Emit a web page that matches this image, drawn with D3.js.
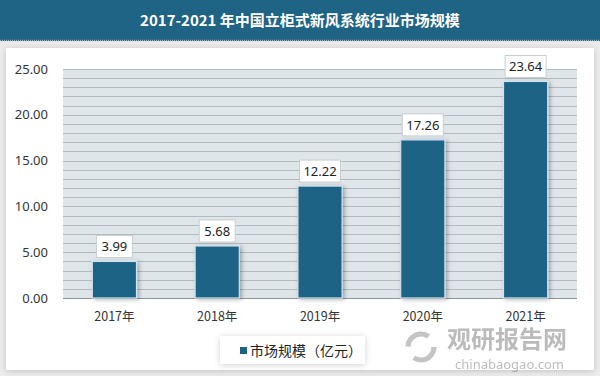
<!DOCTYPE html>
<html>
<head>
<meta charset="utf-8">
<script src="https://cdn.jsdelivr.net/npm/d3@7"></script>
<style>
  html, body { margin: 0; padding: 0; background: #ececec; }
  #chart { width: 600px; height: 376px; }
</style>
</head>
<body>
<div id="chart"></div>
<script>
// Chart data
const years = ['2017年', '2018年', '2019年', '2020年', '2021年'];
const marketSize = [3.99, 5.68, 12.22, 17.26, 23.64];
const yTicks = [0, 5, 10, 15, 20, 25];
const minorTicks = d3.range(0, 26, 1);
const titleText = '2017-2021 年中国立柜式新风系统行业市场规模';
const legendText = '市场规模（亿元）';

const width = 600, height = 376;
const plot = { left: 63, right: 577, top: 69, bottom: 298 };
const barColor = '#1b6386';
const numFont = '"Noto Sans", "Open Sans", sans-serif';
const cjkFont = '"Noto Sans CJK SC", "Noto Sans", sans-serif';

const svg = d3.select('#chart')
    .append('svg')
    .attr('width', width)
    .attr('height', height);

const defs = svg.append('defs');

// soft shadow for panel, bars and boxes
const shadow = defs.append('filter').attr('id', 'shadow')
    .attr('x', '-20%').attr('y', '-20%').attr('width', '150%').attr('height', '150%');
shadow.append('feDropShadow')
    .attr('dx', 2).attr('dy', 1).attr('stdDeviation', 2)
    .attr('flood-color', '#000').attr('flood-opacity', 0.3);

const softShadow = defs.append('filter').attr('id', 'softShadow')
    .attr('x', '-10%').attr('y', '-20%').attr('width', '120%').attr('height', '150%');
softShadow.append('feDropShadow')
    .attr('dx', 0).attr('dy', 1).attr('stdDeviation', 3)
    .attr('flood-color', '#000').attr('flood-opacity', 0.18);

// background and title bar
svg.append('rect').attr('width', width).attr('height', height).attr('fill', '#ececec');
svg.append('rect').attr('x', 0).attr('y', 0).attr('width', width).attr('height', 41)
    .attr('fill', '#1f6385');
svg.append('line')
    .attr('x1', 0).attr('x2', width).attr('y1', 40.5).attr('y2', 40.5)
    .attr('stroke', '#9fb5c2').attr('stroke-width', 1.5).attr('stroke-dasharray', '1,1');

svg.append('text')
    .attr('x', 300).attr('y', 26)
    .attr('text-anchor', 'middle')
    .attr('fill', '#ffffff')
    .attr('font-family', cjkFont)
    .attr('font-weight', 'bold')
    .attr('font-size', 15)
    .text(titleText);

// white panel
svg.append('rect')
    .attr('x', 6).attr('y', 48).attr('width', 588).attr('height', 322)
    .attr('fill', '#ffffff')
    .attr('filter', 'url(#softShadow)');

// scales
const x = d3.scaleBand()
    .domain(years)
    .range([plot.left, plot.right])
    .paddingInner(0.57)
    .paddingOuter(0.285);

const y = d3.scaleLinear()
    .domain([0, 25])
    .range([plot.bottom, plot.top]);

const g = svg.append('g');

// plot background
g.append('rect')
    .attr('x', plot.left).attr('y', plot.top)
    .attr('width', plot.right - plot.left).attr('height', plot.bottom - plot.top)
    .attr('fill', '#dfe6ea');

// gridlines every unit
g.selectAll('.grid')
    .data(minorTicks)
    .enter()
    .append('line')
    .attr('class', 'grid')
    .attr('x1', plot.left).attr('x2', plot.right)
    .attr('y1', d => Math.round(y(d)) + 0.5)
    .attr('y2', d => Math.round(y(d)) + 0.5)
    .attr('stroke', d => d === 0 ? '#8c9498' : '#b3bbbf')
    .attr('stroke-width', 1);

// y axis labels
const yAxis = d3.axisLeft(y).tickValues(yTicks).tickFormat(d3.format('.2f')).tickSize(0).tickPadding(15);
const yg = g.append('g').attr('transform', `translate(${plot.left},0)`).call(yAxis);
yg.select('.domain').remove();
yg.selectAll('text')
    .attr('font-family', numFont)
    .attr('font-size', 13)
    .attr('fill', '#333');

// x axis labels
const xAxis = d3.axisBottom(x).tickSize(0).tickPadding(14);
const xg = g.append('g').attr('transform', `translate(0,${plot.bottom})`).call(xAxis);
xg.select('.domain').remove();
xg.selectAll('text')
    .attr('font-family', cjkFont)
    .attr('font-size', 12.5)
    .attr('fill', '#333');

// bars
g.selectAll('.bar')
    .data(marketSize)
    .enter()
    .append('rect')
    .attr('class', 'bar')
    .attr('x', (d, i) => x(years[i]))
    .attr('y', d => y(d))
    .attr('width', x.bandwidth())
    .attr('height', d => plot.bottom - y(d))
    .attr('fill', barColor)
    .attr('stroke', '#cfe2ee')
    .attr('stroke-width', 1.2)
    .attr('filter', 'url(#shadow)');

// value label boxes
const labels = g.selectAll('.label')
    .data(marketSize)
    .enter()
    .append('g')
    .attr('class', 'label')
    .attr('transform', (d, i) => `translate(${x(years[i]) + x.bandwidth() / 2},${y(d) - 15})`);

labels.append('rect')
    .attr('x', d => d >= 10 ? -20.5 : -18)
    .attr('y', -11)
    .attr('width', d => d >= 10 ? 41 : 36)
    .attr('height', 22)
    .attr('fill', '#ffffff')
    .attr('stroke', '#c9cdd0')
    .attr('stroke-width', 1);

labels.append('text')
    .attr('text-anchor', 'middle')
    .attr('dy', '0.36em')
    .attr('font-family', numFont)
    .attr('font-size', 13)
    .attr('fill', '#222')
    .text(d => d.toFixed(2));

// legend
const legend = svg.append('g');
legend.append('rect')
    .attr('x', 220).attr('y', 336).attr('width', 145).attr('height', 28)
    .attr('fill', '#ffffff')
    .attr('filter', 'url(#softShadow)');
legend.append('rect')
    .attr('x', 240).attr('y', 347).attr('width', 7).attr('height', 7)
    .attr('fill', barColor);
legend.append('text')
    .attr('x', 250).attr('y', 355.5)
    .attr('font-family', cjkFont)
    .attr('font-size', 14)
    .attr('fill', '#222')
    .text(legendText);

// watermark
const wm = svg.append('g').attr('opacity', 0.5);
wm.append('circle').attr('cx', 421).attr('cy', 347).attr('r', 13)
    .attr('fill', 'none').attr('stroke', '#8a8a8a').attr('stroke-width', 5)
    .attr('stroke-dasharray', '28,13');
wm.append('text')
    .attr('x', 447).attr('y', 348)
    .attr('font-family', cjkFont).attr('font-weight', 'bold')
    .attr('font-size', 24).attr('fill', '#7a7a7a')
    .text('观研报告网');
wm.append('text')
    .attr('x', 455).attr('y', 369)
    .attr('font-family', numFont)
    .attr('font-size', 13).attr('fill', '#7a7a7a')
    .text('chinabaogao.com');
</script>
</body>
</html>
